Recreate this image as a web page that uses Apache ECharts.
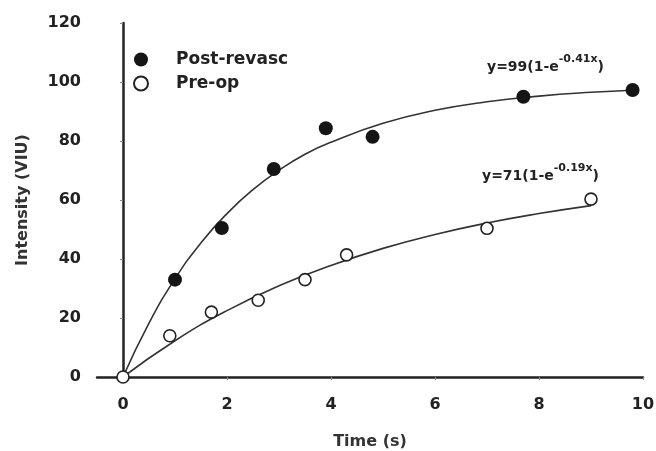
<!DOCTYPE html>
<html>
<head>
<meta charset="utf-8">
<script src="https://cdn.jsdelivr.net/npm/echarts@6/dist/echarts.min.js"></script>
<style>
  html, body { margin: 0; padding: 0; background: #fff; }
  #chart { width: 656px; height: 451px; }
</style>
</head>
<body>
<div id="chart"></div>
<script>
// measured points
var postX = [1.0, 1.9, 2.9, 3.9, 4.8, 7.7, 9.8]
var postY = [33, 50.5, 70.5, 84.3, 81.4, 95, 97.3]
var preX = [0, 0.9, 1.7, 2.6, 3.5, 4.3, 7.0, 9.0]
var preY = [0, 14, 22, 26, 33, 41.4, 50.4, 60.3]

// fitted curves
var postFitX = [0, 0.5, 1, 1.5, 2, 2.5, 3, 3.5, 4, 5, 6, 7, 8, 9, 9.8]
var postFitY = [0, 18.3, 33.3, 45.5, 55.4, 63.5, 70.1, 75.5, 79.6, 86, 90.4, 93.3, 95.2, 96.5, 97.2]
var preFitX = [0, 1, 2, 3, 4, 5, 6, 7, 8, 9]
var preFitY = [0, 12.3, 22.5, 30.9, 37.8, 43.6, 48.3, 52.2, 55.4, 58.1]

var yTicks = [0, 20, 40, 60, 80, 100, 120]
var xTicks = [0, 2, 4, 6, 8, 10]

function pairs(xs, ys) {
  var out = []
  for (var i = 0; i < xs.length; i++) out.push([xs[i], ys[i]])
  return out
}

var chart = echarts.init(document.getElementById('chart'))
var font = 'DejaVu Sans'
var eqRich = {
  b: { fontFamily: font, fontWeight: 'bold', fontSize: 14, fill: '#222', padding: [11, 0, 0, 0] },
  s: { fontFamily: font, fontWeight: 'bold', fontSize: 11, fill: '#222', padding: [0, 0, 4, 0] }
}
var option = {
  backgroundColor: '#fff',
  animation: false,
  textStyle: { fontFamily: font },
  grid: { left: 97, right: 13, top: 23, bottom: 74, outerBoundsMode: 'none', containLabel: false },
  legend: {
    orient: 'vertical',
    left: 128,
    top: 46,
    itemGap: 7,
    itemWidth: 14,
    itemHeight: 14,
    data: ['Post-revasc', 'Pre-op'],
    textStyle: { fontFamily: font, fontWeight: 'bold', fontSize: 17, color: '#222', padding: [0, 0, 0, 23] }
  },
  xAxis: {
    type: 'value',
    min: -0.5,
    max: 10,
    name: 'Time (s)',
    nameLocation: 'middle',
    nameGap: 57,
    nameTextStyle: { fontFamily: font, fontWeight: 'bold', fontSize: 16, color: '#333' },
    axisLine: { show: true, onZero: false, lineStyle: { color: '#222', width: 2.5 } },
    axisTick: { show: true, length: 3, customValues: xTicks, lineStyle: { color: '#888', width: 1 } },
    axisLabel: {
      margin: 20,
      customValues: xTicks,
      fontFamily: font, fontWeight: 'bold', fontSize: 16, color: '#222'
    },
    splitLine: { show: false }
  },
  yAxis: {
    type: 'value',
    min: 0,
    max: 120,
    interval: 20,
    name: 'Intensity (VIU)',
    nameLocation: 'middle',
    nameGap: 66,
    nameTextStyle: { fontFamily: font, fontWeight: 'bold', fontSize: 16, color: '#333' },
    axisLine: { show: true, lineStyle: { color: '#222', width: 2.5 } },
    axisTick: { show: true, length: 3, lineStyle: { color: '#888', width: 1 } },
    axisLabel: {
      margin: 16,
      fontFamily: font, fontWeight: 'bold', fontSize: 16, color: '#222'
    },
    splitLine: { show: false }
  },
  series: [
    {
      name: 'postFit', type: 'line', smooth: true, symbol: 'none',
      lineStyle: { color: '#333', width: 1.6 },
      data: pairs(postFitX, postFitY), z: 1
    },
    {
      name: 'preFit', type: 'line', smooth: true, symbol: 'none',
      lineStyle: { color: '#333', width: 1.6 },
      data: pairs(preFitX, preFitY), z: 1
    },
    {
      name: 'Post-revasc', type: 'scatter', symbol: 'circle', symbolSize: 14,
      itemStyle: { color: '#151515', opacity: 1 },
      data: pairs(postX, postY), z: 3
    },
    {
      name: 'Pre-op', type: 'scatter', symbol: 'circle', symbolSize: 12,
      itemStyle: { color: '#fff', borderColor: '#222', borderWidth: 1.6, opacity: 1 },
      data: pairs(preX, preY), z: 3
    }
  ],
  graphic: [
    {
      type: 'text', left: 487, top: 54,
      style: { text: '{b|y=99(1-e}{s|-0.41x}{b|)}', rich: eqRich }
    },
    {
      type: 'text', left: 482, top: 163,
      style: { text: '{b|y=71(1-e}{s|-0.19x}{b|)}', rich: eqRich }
    }
  ]
}
chart.setOption(option)
</script>
</body>
</html>
